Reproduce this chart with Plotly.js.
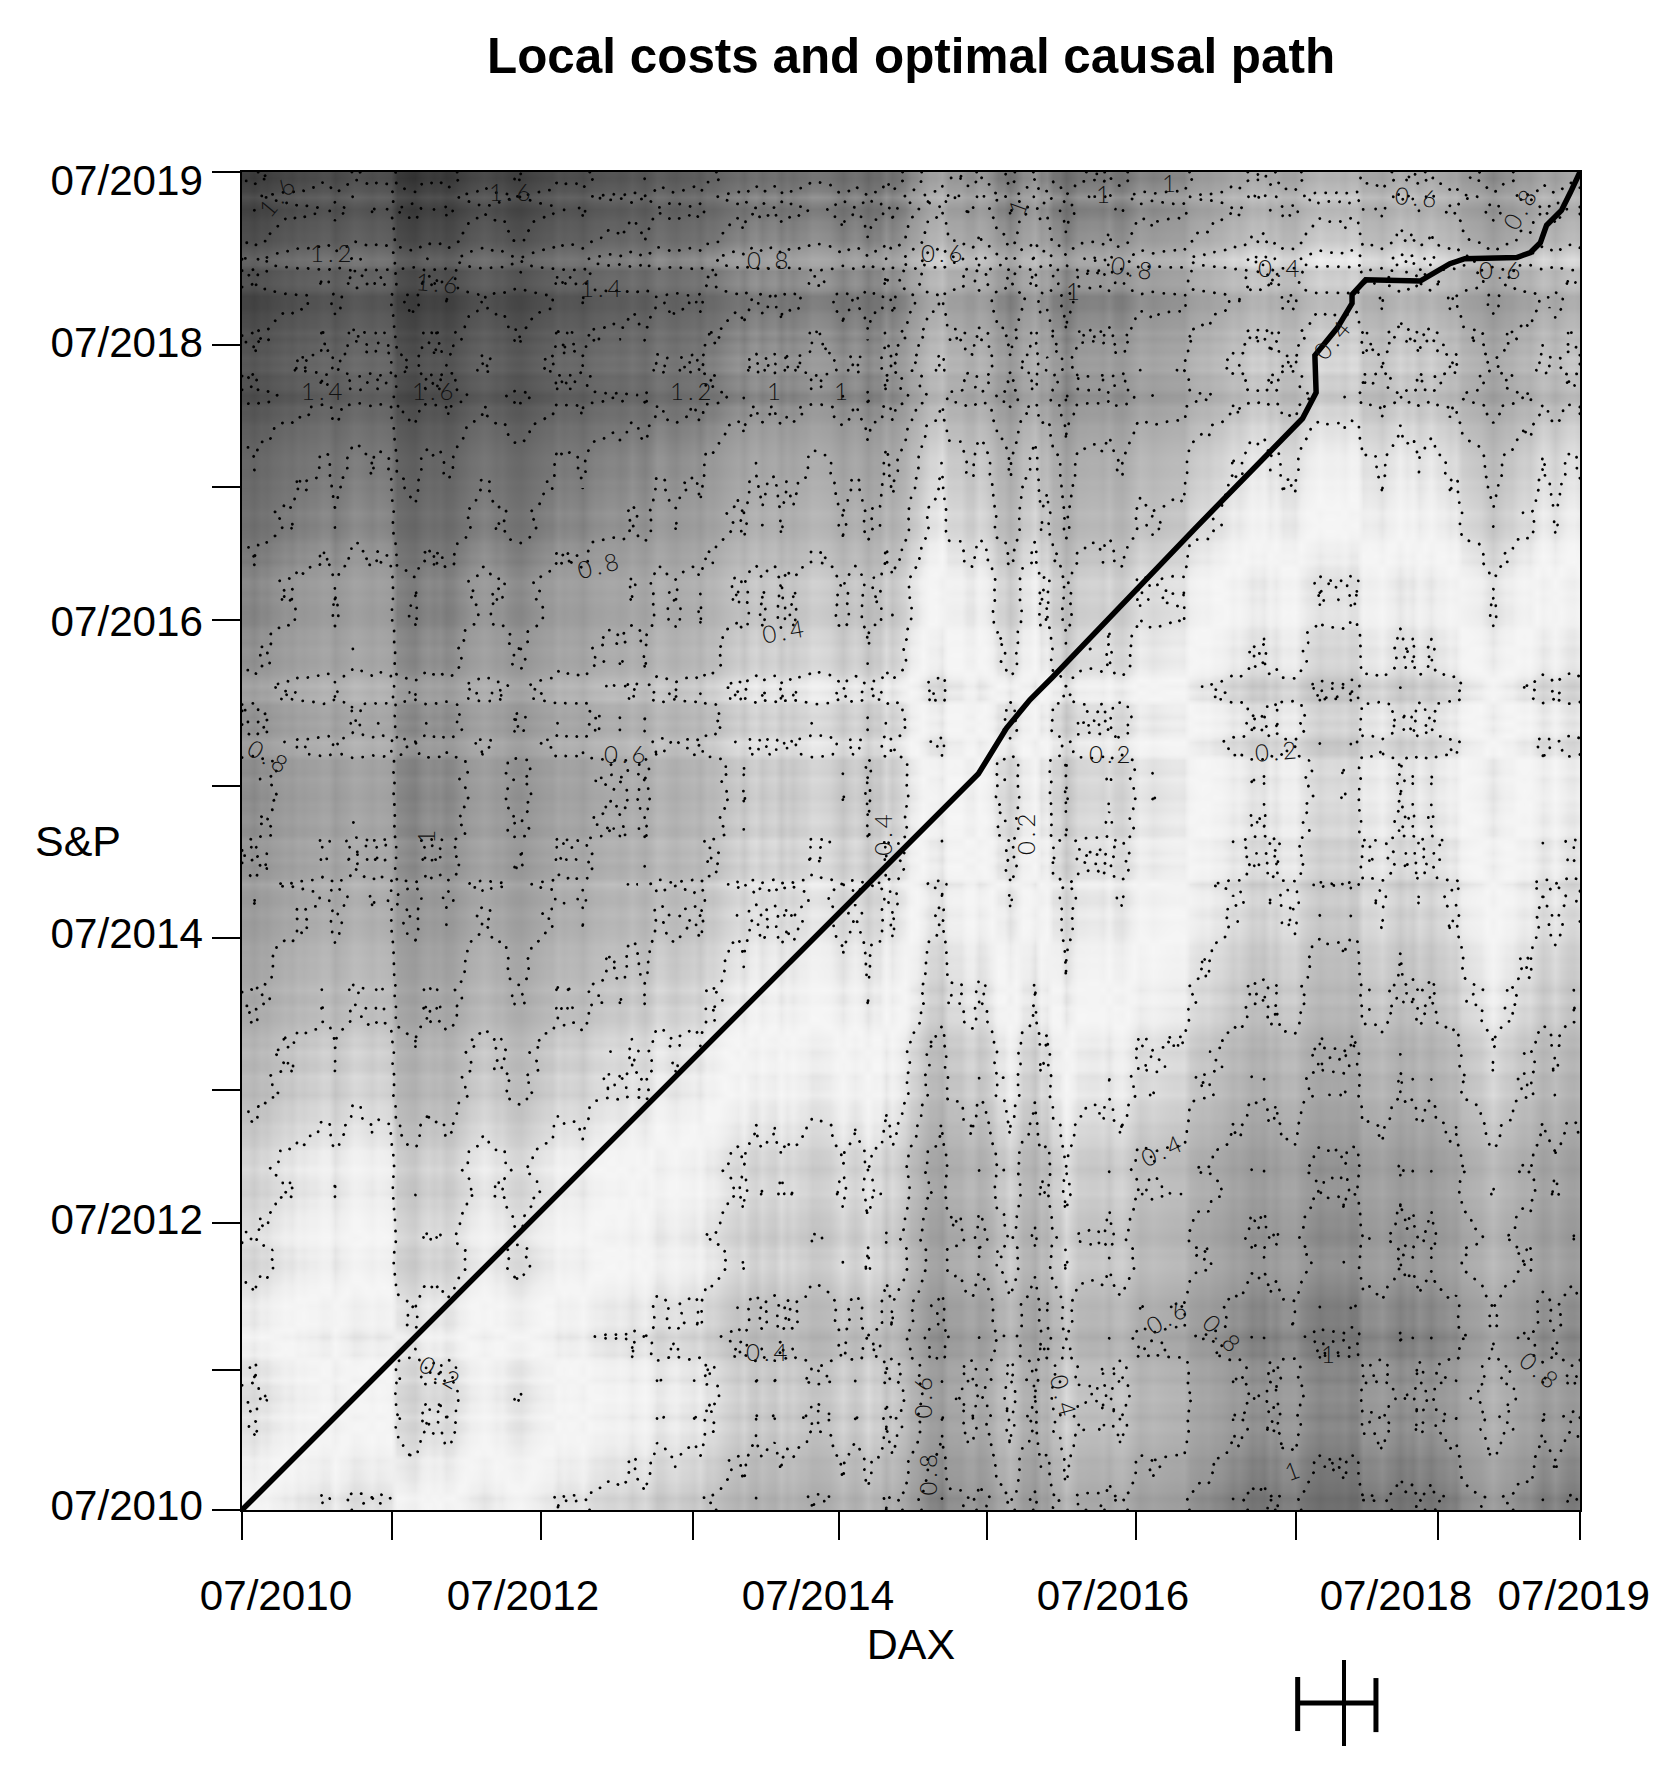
<!DOCTYPE html>
<html><head><meta charset="utf-8">
<script src="https://cdn.plot.ly/plotly-3.0.1.min.js"></script>
<style>html,body{margin:0;padding:0;background:#fff}.contourlevel path{stroke-linecap:round}</style>
</head><body><div id="c" style="width:1676px;height:1784px"></div>
<script>
// month-end levels, 07/2010 .. 07/2019
const daxLevel=[6148,5925,6229,6601,6688,6914,
7077,7272,7041,7514,7293,7376,7158,5784,5502,6141,6088,5898,
6458,6856,6946,6761,6264,6416,6772,6970,7216,7260,7405,7612,
7776,7742,7795,7914,8349,7959,8276,8103,8594,9033,9405,9552,
9306,9692,9556,9603,9943,9833,9407,9470,9474,9326,9980,9806,
10694,11402,11966,11454,11414,10945,11309,10259,9660,10850,11382,10743,
9798,9495,9966,10039,10263,9680,10337,10593,10511,10665,10640,11481,
11535,11834,12313,12438,12615,12325,12118,12056,12829,13230,13024,12918,
13189,12436,12097,12612,12605,12306,12806,12364,12247,11447,11257,10559,
11173,11516,11526,12344,11727,12399,12189];
const spLevel=[1101,1049,1141,1183,1180,1257,
1286,1327,1325,1363,1345,1320,1292,1218,1131,1253,1246,1257,
1312,1365,1408,1397,1310,1362,1379,1406,1440,1412,1416,1426,
1498,1514,1569,1597,1630,1606,1685,1632,1681,1756,1805,1848,
1782,1859,1872,1883,1923,1960,1930,2003,1972,2018,2067,2058,
1994,2104,2067,2085,2107,2063,2103,1972,1920,2079,2080,2043,
1940,1932,2059,2065,2096,2098,2173,2170,2168,2126,2198,2238,
2278,2363,2362,2384,2411,2423,2470,2471,2519,2575,2647,2673,
2823,2713,2640,2648,2705,2718,2816,2901,2913,2711,2760,2506,
2704,2784,2834,2945,2752,2941,2980];
// mid-month levels, 08/2010 .. 07/2019
const daxMid=[6150,6300,6500,6800,7000,
7080,7330,6700,7200,7450,7150,7300,5900,5600,5950,5950,5750,
6250,6740,7100,6680,6450,6200,6620,6950,7400,7350,7020,7600,
7750,7620,8050,7560,8400,8100,8220,8400,8650,8800,9200,9050,
9720,9600,9180,9320,9650,9920,9750,9100,9700,8900,9300,9450,
10100,10950,11900,12300,11400,11000,11500,10900,10200,10100,10950,10500,
9900,8990,9950,10050,9900,9800,10000,10700,10400,10600,10700,11300,
11600,11800,12050,12150,12750,12800,12600,12150,12550,13000,13050,13100,
13250,12350,12350,12450,12950,12800,12550,12400,12100,11600,11350,10900,
10900,11200,11650,12000,12150,12100,12450];
const spMid=[1090,1125,1175,1200,1240,
1285,1335,1265,1320,1340,1270,1325,1190,1205,1205,1240,1220,
1295,1345,1400,1375,1340,1340,1360,1410,1460,1440,1370,1420,
1480,1520,1560,1570,1660,1630,1680,1660,1700,1720,1795,1780,
1840,1830,1860,1860,1880,1950,1975,1955,2000,1880,2040,2010,
2020,2095,2055,2100,2125,2095,2120,2100,1960,2020,2030,2040,
1890,1860,2015,2085,2050,2080,2160,2180,2140,2135,2180,2260,
2270,2340,2385,2340,2400,2435,2460,2460,2500,2555,2580,2680,
2790,2730,2750,2680,2720,2780,2800,2840,2905,2770,2730,2550,
2600,2775,2820,2905,2860,2890,3010];
const daxScale=6400, spScale=1174;
const pathX=[0,12,24,36,48,59.44,60.6,61.7,63.6,65.4,76.9,85.6,86.7,86.6,88.4,89.6,89.6,90.7,95.1,97.5,98.7,102.9,104,104.8,105.3,106.5,107.2,108];
const pathY=[0,12,24,36,48,59.43,61.3,63.1,65.4,67.2,79.2,88.1,90.2,93.2,95.4,97.4,98.1,99.3,99.2,100.6,101,101.1,101.5,102.3,103.7,104.9,106.3,108];
const xTicks=[0,12.1,24.13,36.4,48.18,60.13,72.2,85.07,96.5,108];
const yTicks=[0,11.3,23.16,33.9,46.17,58.43,71.83,82.57,94.03,108];
const xLabelPos=[2.74,22.68,46.49,70.3,93.14,107.5];
const yLabelPos=[0.4,23.49,46.57,71.75,94.27,107.3];
const tickLabels=["07/2010","07/2012","07/2014","07/2016","07/2018","07/2019"];
// contour labels: x, y (px of shrunk reference), text, angle
const costLabels=[[244,172,"1.6",-50],[292,222,"1.2",0],[385,248,"1.6",5],[450,168,"1.6",0],[530,253,"1.4",0],[676,228,"0.8",0],[829,222,"0.6",0],[996,235,"0.8",10],[1126,235,"0.4",0],[1246,173,"0.6",5],[1336,182,"0.8",-60],[1320,237,"0.6",0],[1172,297,"0.4",-50],[895,180,"1",-70],[971,170,"1",0],[1029,160,"1",0],[945,255,"1",0],[285,343,"1.4",0],[382,343,"1.6",0],[609,343,"1.2",0],[682,343,"1",0],[741,343,"1",0],[527,496,"0.8",-15],[690,554,"0.4",-10],[237,665,"0.8",30],[551,662,"0.6",0],[977,662,"0.2",0],[1123,660,"0.2",-5],[776,732,"0.4",-90],[902,732,"0.2",-90],[374,734,"1",-90],[1022,1010,"0.4",-25],[1026,1157,"0.6",-30],[1075,1172,"0.8",45],[388,1206,"0.2",30],[676,1188,"0.4",0],[810,1227,"0.6",-90],[936,1228,"0.4",75],[815,1295,"0.8",-90],[1169,1190,"1",0],[1137,1292,"1",-20],[1354,1205,"0.8",40]];

function merge(a,b){const o=[];a.forEach((v,i)=>{o.push(v);if(i<b.length)o.push(b[i]);});return o;}
const dax=merge(daxLevel,daxMid), sp=merge(spLevel,spMid);
const months=dax.map((_,i)=>i/2);
const z=sp.map(s=>dax.map(d=>Math.abs((d-dax[0])/daxScale-(s-sp[0])/spScale)));
const F='"Liberation Sans",Arial,sans-serif';
const ax={range:[0,108],showgrid:false,zeroline:false,showline:true,linecolor:'#000',linewidth:2,mirror:true,ticks:'outside',ticklen:28,tickwidth:2,tickcolor:'#000',tickmode:'array',showticklabels:false};
const ax2={range:[0,108],showgrid:false,zeroline:false,showline:false,ticks:'',tickmode:'array',tickangle:0,tickfont:{family:F,size:42.2,color:'#000'}};
const zMax=1.9;
const costStops=[0,0.1,0.2,0.4,0.6,0.8,1.0,1.2,1.6,1.9];
const grayStops=[246,238,222,192,170,150,120,100,62,30];
const data=[
 {type:'heatmap',x:months,y:months,z:z,zmin:0,zmax:zMax,zsmooth:'best',showscale:false,hoverinfo:'skip',
  colorscale:costStops.map((c,i)=>[c/zMax,`rgb(${grayStops[i]},${grayStops[i]},${grayStops[i]})`])},
 {type:'contour',x:months,y:months,z:z,showscale:false,hoverinfo:'skip',
  contours:{coloring:'none',start:0.2,end:1.6,size:0.2},line:{color:'#000',width:2.8,dash:'0.1px,10.8px',smoothing:0}},
 {type:'scatter',mode:'lines',x:pathX,y:pathY,xaxis:'x2',yaxis:'y2',line:{color:'#000',width:5.5},hoverinfo:'skip',showlegend:false}
];
const anns=costLabels.map(l=>({x:(l[0]-212.7)*0.09183,y:(1327.2-l[1])*0.09183,xref:'x',yref:'y',text:l[2],textangle:l[3],showarrow:false,font:{family:'Lato, "Liberation Sans"',size:24,color:'#111',weight:300}}));
anns.push({xref:'paper',yref:'paper',x:-0.156,y:0.5,yanchor:'middle',text:'S&P',showarrow:false,font:{family:F,size:43,color:'#000'}});
const lay={width:1676,height:1784,margin:{l:242,r:96,t:172,b:274},paper_bgcolor:'#fff',plot_bgcolor:'#fff',showlegend:false,
 title:{text:'<b>Local costs and optimal causal path</b>',x:0.5436,xanchor:'center',y:0.9685,yanchor:'middle',font:{family:F,size:49.4,color:'#000'}},
 xaxis:{...ax,tickvals:xTicks,title:{text:'DAX',standoff:90,font:{family:F,size:43,color:'#000'}}},yaxis:{...ax,tickvals:yTicks},
 xaxis2:{...ax2,overlaying:'x',anchor:'y2',side:'bottom',tickvals:xLabelPos,ticktext:tickLabels,ticklabelstandoff:57},
 yaxis2:{...ax2,overlaying:'y',anchor:'x2',side:'left',tickvals:yLabelPos,ticktext:tickLabels,ticklabelstandoff:38},
 annotations:anns,
 shapes:[
  {type:'line',xref:'paper',yref:'paper',x0:0.789,x1:0.8475,y0:-0.1442,y1:-0.1442,line:{color:'#000',width:5}},
  {type:'line',xref:'paper',yref:'paper',x0:0.789,x1:0.789,y0:-0.1248,y1:-0.1652,line:{color:'#000',width:5}},
  {type:'line',xref:'paper',yref:'paper',x0:0.8475,x1:0.8475,y0:-0.1256,y1:-0.166,line:{color:'#000',width:5}},
  {type:'line',xref:'paper',yref:'paper',x0:0.8236,x1:0.8236,y0:-0.1121,y1:-0.1764,line:{color:'#000',width:4}}
 ]};
Plotly.newPlot('c',data,lay,{displayModeBar:false,staticPlot:true}).then(()=>{
 document.querySelectorAll('.annotation-text').forEach(t=>{if(/^[\d.]+$/.test(t.textContent))t.style.letterSpacing='4px';});
});
</script></body></html>
